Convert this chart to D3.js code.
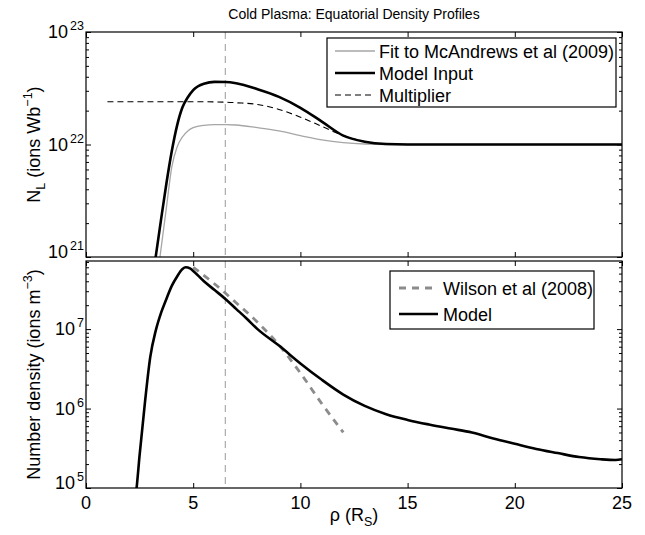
<!DOCTYPE html>
<html><head><meta charset="utf-8">
<script src="https://cdn.jsdelivr.net/npm/d3@7"></script>
<style>
body{margin:0;background:#fff;}
svg text{font-family:"Liberation Sans",Arial,Helvetica,sans-serif;fill:#000;}
</style></head><body>
<svg id="c" width="645" height="535"></svg>
<script>
// ---------- data ----------
const xTickVals = [0, 5, 10, 15, 20, 25];
const topExps = [21, 22, 23];
const botExps = [5, 6, 7];
const markerRho = 6.5;

// Top panel: flux-tube content N_L (ions / Wb)
const rhoFit = [3.25, 3.45, 3.75, 4.0, 4.25, 4.5, 4.75, 5.0, 5.5, 6.0, 6.5, 7.0, 8.0, 9.0, 10.0, 11.0, 12.0, 13.0, 14.0, 15.0, 20.0, 25.0];
const fitVals = [5e20, 1e21, 2.75e21, 6.3e21, 9.5e21, 1.17e22, 1.32e22, 1.41e22, 1.48e22, 1.5e22, 1.5e22, 1.49e22, 1.41e22, 1.32e22, 1.2e22, 1.1e22, 1.04e22, 1.01e22, 1.0e22, 1.0e22, 1.0e22, 1.0e22];

const rhoModelIn = [3.0, 3.25, 3.5, 3.75, 4.0, 4.25, 4.5, 4.75, 5.0, 5.5, 6.0, 6.5, 7.0, 8.0, 9.0, 10.0, 11.0, 12.0, 13.0, 14.0, 15.0, 20.0, 25.0];
const modelInVals = [4.5e20, 1e21, 2.15e21, 4.5e21, 8.7e21, 1.48e22, 2.14e22, 2.63e22, 3.05e22, 3.47e22, 3.6e22, 3.59e22, 3.5e22, 3.1e22, 2.65e22, 2.12e22, 1.6e22, 1.2e22, 1.06e22, 1.01e22, 1.0e22, 1.0e22, 1.0e22];

const rhoMult = [1.0, 3.0, 5.0, 6.5, 7.0, 8.0, 9.0, 10.0, 11.0, 12.0, 13.0, 14.0, 15.0, 20.0, 25.0];
const multVals = [2.4e22, 2.4e22, 2.4e22, 2.38e22, 2.35e22, 2.27e22, 2.05e22, 1.75e22, 1.45e22, 1.2e22, 1.06e22, 1.01e22, 1.0e22, 1.0e22, 1.0e22];

// Bottom panel: number density (ions / m^3)
const rhoWilson = [5.0, 6.0, 7.0, 8.0, 9.0, 10.0, 11.0, 12.0];
const wilsonVals = [6e7, 3.7e7, 2.15e7, 1.22e7, 6.3e6, 2.8e6, 1.15e6, 5e5];

const rhoModel = [2.2, 2.36, 2.5, 2.75, 3.0, 3.25, 3.5, 3.75, 4.0, 4.25, 4.5, 4.65, 4.85, 5.0, 5.5, 6.0, 6.5, 7.0, 7.5, 8.0, 9.0, 10.0, 11.0, 12.0, 13.0, 14.0, 15.0, 16.0, 17.0, 18.0, 19.0, 20.0, 21.0, 22.0, 23.0, 24.0, 24.7, 25.0];
const modelVals = [5e4, 1e5, 2.6e5, 1.2e6, 4.5e6, 9.5e6, 1.6e7, 2.4e7, 3.5e7, 4.6e7, 5.7e7, 6e7, 5.8e7, 5.4e7, 4e7, 3.1e7, 2.4e7, 1.8e7, 1.35e7, 1.0e7, 6.2e6, 3.7e6, 2.3e6, 1.5e6, 1.08e6, 8.5e5, 7.2e5, 6.3e5, 5.6e5, 5.0e5, 4.2e5, 3.6e5, 3.1e5, 2.75e5, 2.45e5, 2.3e5, 2.25e5, 2.3e5];

const title = "Cold Plasma: Equatorial Density Profiles";
const topLegend = ["Fit to McAndrews et al (2009)", "Model Input", "Multiplier"];
const botLegend = ["Wilson et al (2008)", "Model"];

// ---------- layout ----------
const L = 86, R = 622;
const topP = {t: 32, b: 257, dom: [1e21, 1e23]};
const botP = {t: 261, b: 488, dom: [1e5, 7.2e7]};
const FS = 18, SUP = 12.5;

const svg = d3.select("#c");
const x = d3.scaleLinear().domain([0, 25]).range([L, R]);
const yT = d3.scaleLog().domain(topP.dom).range([topP.b, topP.t]);
const yB = d3.scaleLog().domain(botP.dom).range([botP.b, botP.t]);

function minorTicks(dom) {
  const out = [];
  const lo = Math.floor(Math.log10(dom[0])), hi = Math.ceil(Math.log10(dom[1]));
  for (let e = lo; e < hi; e++) for (let k = 2; k <= 9; k++) {
    const v = k * Math.pow(10, e);
    if (v > dom[0] && v < dom[1]) out.push(v);
  }
  return out;
}

function panel(y, P, exps, id, showXLabels) {
  const g = svg.append("g");
  svg.append("clipPath").attr("id", id).append("rect")
    .attr("x", L).attr("y", P.t).attr("width", R - L).attr("height", P.b - P.t);
  const plot = g.append("g").attr("clip-path", `url(#${id})`);
  const styleAx = a => { a.select(".domain").remove(); a.selectAll("line").attr("stroke", "#000").attr("stroke-width", 1); a.selectAll("text").remove(); };
  g.append("g").attr("transform", `translate(0,${P.b})`)
    .call(d3.axisBottom(x).tickValues(xTickVals).tickSizeInner(-5).tickSizeOuter(0).tickFormat(""))
    .call(styleAx);
  g.append("g").attr("transform", `translate(0,${P.t})`)
    .call(d3.axisTop(x).tickValues(xTickVals).tickSizeInner(-5).tickSizeOuter(0).tickFormat(""))
    .call(styleAx);
  const majors = exps.map(e => Math.pow(10, e));
  [[d3.axisLeft, L], [d3.axisRight, R]].forEach(([fn, px]) => {
    g.append("g").attr("transform", `translate(${px},0)`)
      .call(fn(y).tickValues(majors).tickSizeInner(-5).tickSizeOuter(0).tickFormat(""))
      .call(styleAx);
    g.append("g").attr("transform", `translate(${px},0)`)
      .call(fn(y).tickValues(minorTicks(P.dom)).tickSizeInner(-3).tickSizeOuter(0).tickFormat(""))
      .call(styleAx);
  });
  exps.forEach((e, i) => {
    const yy = y(Math.pow(10, e)) + (i === 0 ? 1 : 6);
    const t = g.append("text").attr("x", L - 2).attr("y", yy).attr("text-anchor", "end").attr("font-size", FS);
    t.append("tspan").text("10");
    t.append("tspan").attr("dx", 2).attr("dy", -8).attr("font-size", SUP).text(String(e));
  });
  if (showXLabels) {
    xTickVals.forEach(v => {
      g.append("text").attr("x", x(v)).attr("y", P.b + 21).attr("text-anchor", "middle")
        .attr("font-size", FS).text(String(v));
    });
  }
  plot.append("line").attr("x1", x(markerRho)).attr("x2", x(markerRho)).attr("y1", P.t).attr("y2", P.b)
    .attr("stroke", "#b0b0b0").attr("stroke-width", 1.3).attr("stroke-dasharray", "7,5");
  return {g, plot};
}

const topPanel = panel(yT, topP, topExps, "clipT", false);
const botPanel = panel(yB, botP, botExps, "clipB", true);

function drawLine(plot, y, xs, ys, stroke, width, dash) {
  const pts = xs.map((v, i) => [v, ys[i]]);
  const line = d3.line().x(d => x(d[0])).y(d => y(d[1])).curve(d3.curveMonotoneX);
  const p = plot.append("path").datum(pts).attr("d", line).attr("fill", "none")
    .attr("stroke", stroke).attr("stroke-width", width).attr("stroke-linejoin", "round");
  if (dash) p.attr("stroke-dasharray", dash);
}

drawLine(topPanel.plot, yT, rhoFit, fitVals, "#a6a6a6", 1.3);
drawLine(topPanel.plot, yT, rhoMult, multVals, "#000", 1.1, "6,4");
drawLine(topPanel.plot, yT, rhoModelIn, modelInVals, "#000", 2.6);

drawLine(botPanel.plot, yB, rhoWilson, wilsonVals, "#8c8c8c", 2.8, "7,6");
drawLine(botPanel.plot, yB, rhoModel, modelVals, "#000", 2.6);

[topP, botP].forEach(P => {
  svg.append("rect").attr("x", L).attr("y", P.t).attr("width", R - L).attr("height", P.b - P.t)
    .attr("fill", "none").attr("stroke", "#000").attr("stroke-width", 1.2);
});

function legend(box, lx0, lx1, tx, rows) {
  svg.append("rect").attr("x", box[0]).attr("y", box[1]).attr("width", box[2] - box[0]).attr("height", box[3] - box[1])
    .attr("fill", "#fff").attr("stroke", "#000").attr("stroke-width", 1.2);
  rows.forEach(r => {
    const ln = svg.append("line").attr("x1", lx0).attr("x2", lx1).attr("y1", r.y).attr("y2", r.y)
      .attr("stroke", r.stroke).attr("stroke-width", r.w);
    if (r.dash) ln.attr("stroke-dasharray", r.dash);
    svg.append("text").attr("x", tx).attr("y", r.y + 6.5).attr("font-size", FS).text(r.label);
  });
}
legend([327, 38, 616, 107], 335, 375, 379, [
  {y: 51, label: topLegend[0], stroke: "#a6a6a6", w: 1.3},
  {y: 73, label: topLegend[1], stroke: "#000", w: 2.6},
  {y: 95, label: topLegend[2], stroke: "#000", w: 1.1, dash: "6,4"}
]);
legend([390, 271, 594, 329], 399, 438, 443, [
  {y: 288, label: botLegend[0], stroke: "#8c8c8c", w: 2.8, dash: "7,6"},
  {y: 314, label: botLegend[1], stroke: "#000", w: 2.6}
]);

svg.append("text").attr("x", (L + R) / 2).attr("y", 19).attr("text-anchor", "middle").attr("font-size", 14).text(title);

const yl1 = svg.append("text").attr("transform", `translate(40,${(topP.t + topP.b) / 2}) rotate(-90)`)
  .attr("text-anchor", "middle").attr("font-size", FS);
yl1.append("tspan").text("N");
yl1.append("tspan").attr("dy", 5).attr("font-size", SUP).text("L");
yl1.append("tspan").attr("dy", -5).text(" (ions Wb");
yl1.append("tspan").attr("dy", -8).attr("font-size", SUP).text("−1");
yl1.append("tspan").attr("dy", 8).text(")");

const yl2 = svg.append("text").attr("transform", `translate(40,${(botP.t + botP.b) / 2}) rotate(-90)`)
  .attr("text-anchor", "middle").attr("font-size", FS);
yl2.append("tspan").text("Number density (ions m");
yl2.append("tspan").attr("dy", -8).attr("font-size", SUP).text("−3");
yl2.append("tspan").attr("dy", 8).text(")");

const xl = svg.append("text").attr("x", (L + R) / 2).attr("y", 521).attr("text-anchor", "middle").attr("font-size", FS);
xl.append("tspan").text("ρ (R");
xl.append("tspan").attr("dy", 5).attr("font-size", SUP).text("S");
xl.append("tspan").attr("dy", -5).text(")");
</script>
</body></html>
